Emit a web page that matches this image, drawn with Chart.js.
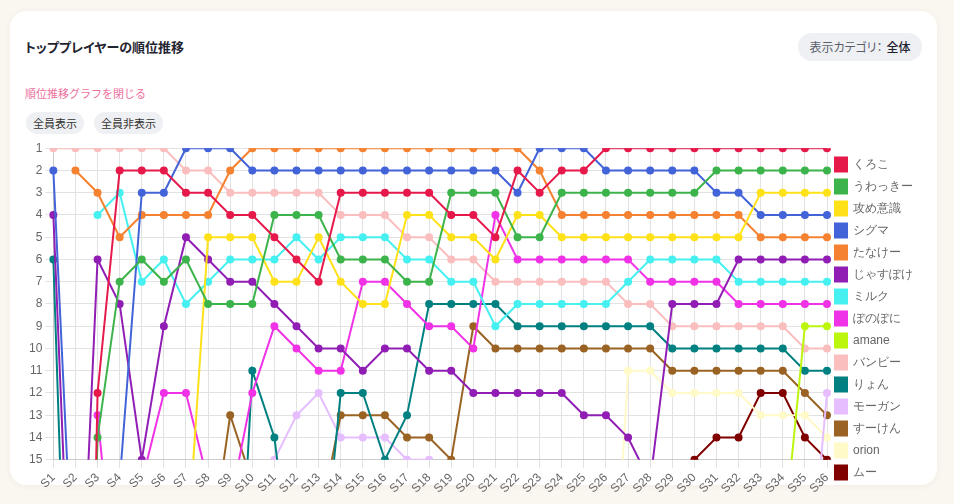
<!DOCTYPE html>
<html lang="ja">
<head>
<meta charset="utf-8">
<title>トッププレイヤーの順位推移</title>
<script src="https://cdn.jsdelivr.net/npm/chart.js@4.4.1/dist/chart.umd.min.js"></script>
<style>
  html, body { margin: 0; padding: 0; }
  body {
    width: 954px; height: 504px; overflow: hidden; position: relative;
    background: #faf6f0;
    font-family: "Noto Sans CJK JP", "Noto Sans", sans-serif;
  }
  .card {
    position: absolute; left: 10px; top: 11px; width: 927px; height: 474px;
    background: #fff; border-radius: 16px;
    box-shadow: 0 1px 6px rgba(120, 90, 40, 0.06);
  }
  .title {
    position: absolute; left: 25px; top: 37px;
    font-size: 13px; line-height: 20px; font-weight: bold; color: #1f2430;
    font-feature-settings: "palt";
  }
  .close-link {
    position: absolute; left: 25px; top: 85px;
    font-size: 11px; line-height: 16px; color: #ec6f9c;
  }
  .pill {
    position: absolute; height: 22px; line-height: 22px; border-radius: 11px;
    background: #eff0f3; color: #333; font-size: 11px; padding: 0 7px;
  }
  .category {
    position: absolute; left: 798px; top: 33px; width: 124px; height: 28px;
    line-height: 28px; border-radius: 14px; background: #eef0f4;
    font-size: 12px; text-align: center; font-feature-settings: "palt";
  }
  .category .lbl { color: #5a5f69; }
  .category .val { color: #1f2430; font-weight: 500; margin-left: 4px; }
  .chart-box { position: absolute; left: 26px; top: 138px; width: 897px; height: 361px; }
</style>
</head>
<body>
<div class="card"></div>
<div class="title">トッププレイヤーの順位推移</div>
<div class="category"><span class="lbl">表示カテゴリ：</span><span class="val">全体</span></div>
<div class="close-link">順位推移グラフを閉じる</div>
<div class="pill" style="left:26px; top:112px;">全員表示</div>
<div class="pill" style="left:94px; top:112px;">全員非表示</div>
<div class="chart-box"><canvas id="rankChart"></canvas></div>

<script>
// シーズン
var seasons = [];
for (var i = 1; i <= 36; i++) seasons.push('S' + i);

var players = ['くろこ', 'うわっきー', '攻め意識', 'シグマ', 'たなけー', 'じゃすぽけ', 'ミルク', 'ぽのぽに',
               'amane', 'バンビー', 'りょん', 'モーガン', 'すーけん', 'orion', 'ムー'];

var colors = ['#e6194b', '#3cb44b', '#ffe119', '#4363d8', '#f58231', '#911eb4', '#46f0f0', '#f032e6',
              '#bcf60c', '#fabebe', '#008080', '#e6beff', '#9a6324', '#fffac8', '#800000'];

// 順位 (null = 記録なし)
var kuroko   = [null, 60, 12, 2, 2, 2, 3, 3, 4, 4, 5, 6, 7, 3, 3, 3, 3, 3, 4, 4, 5, 2, 3, 2, 2, 1, 1, 1, 1, 1, 1, 1, 1, 1, 1, 1];
var uwakki   = [null, 50, 14, 7, 6, 7, 6, 8, 8, 8, 4, 4, 4, 6, 6, 6, 7, 7, 3, 3, 3, 5, 5, 3, 3, 3, 3, 3, 3, 3, 2, 2, 2, 2, 2, 2];
var semeishiki = [null, null, null, null, null, null, 20, 5, 5, 5, 7, 7, 5, 7, 8, 8, 4, 4, 5, 5, 6, 4, 4, 5, 5, 5, 5, 5, 5, 5, 5, 5, 3, 3, 3, 3];
var sigma    = [2, 23, 22, 16, 3, 3, 1, 1, 1, 2, 2, 2, 2, 2, 2, 2, 2, 2, 2, 2, 2, 3, 1, 1, 1, 2, 2, 2, 2, 2, 3, 3, 4, 4, 4, 4];
var tanake   = [null, 2, 3, 5, 4, 4, 4, 4, 2, 1, 1, 1, 1, 1, 1, 1, 1, 1, 1, 1, 1, 1, 2, 4, 4, 4, 4, 4, 4, 4, 4, 4, 5, 5, 5, 5];
var jasupoke = [4, 28, 6, 8, 15, 9, 5, 6, 7, 7, 8, 9, 10, 10, 11, 10, 10, 11, 11, 12, 12, 12, 12, 12, 13, 13, 14, 16, 8, 8, 8, 6, 6, 6, 6, 6];
var milk     = [null, null, 4, 3, 7, 6, 8, 7, 6, 6, 6, 5, 6, 5, 5, 5, 6, 6, 7, 7, 9, 8, 8, 8, 8, 8, 7, 6, 6, 6, 6, 7, 7, 7, 7, 7];
var ponoponi = [null, null, 13, 23, 16, 12, 12, 16, 17, 12, 9, 10, 11, 11, 7, 7, 8, 9, 9, 10, 4, 6, 6, 6, 6, 6, 6, 7, 7, 7, 7, 8, 8, 8, 8, 8];
var amane    = [null, null, null, null, null, null, null, null, null, null, null, null, null, null, null, null, null, null,
                null, null, null, null, null, null, null, null, null, null, null, null, null, null, null, 19, 9, 9];
var bambi    = [1, 1, 1, 1, 1, 1, 2, 2, 3, 3, 3, 3, 3, 4, 4, 4, 5, 5, 6, 6, 7, 7, 7, 7, 7, 7, 8, 8, 9, 9, 9, 9, 9, 9, 10, 10];
var ryon     = [6, 36, null, null, null, null, null, null, 30, 11, 14, 22, 22, 12, 12, 15, 13, 8, 8, 8, 8, 9, 9, 9, 9, 9, 9, 9, 10, 10, 10, 10, 10, 10, 11, 11];
var morgan   = [null, null, null, null, null, null, null, null, null, null, 15, 13, 12, 14, 14, 14, 15, 15,
                null, null, null, null, null, null, null, null, null, null, null, null, null, null, null, null, 23, 12];
var suken    = [null, null, null, null, null, null, null, 20, 13, 16, null, null, 18, 13, 13, 13, 14, 14, 15, 9, 10, 10, 10, 10, 10, 10, 10, 10, 11, 11, 11, 11, 11, 11, 12, 13];
var orion    = [null, null, null, null, null, null, null, null, null, null, null, null, null, null, null, null, null, null,
                null, null, null, null, null, null, null, 28, 11, 11, 12, 12, 12, 12, 13, 13, 13, 14];
var mu       = [null, null, null, null, null, null, null, null, null, null, null, null, null, null, null, null, null, null,
                null, null, null, null, null, null, null, null, null, null, null, 15, 14, 14, 12, 12, 14, 15];

var rankTicks = [1, 2, 3, 4, 5, 6, 7, 8, 9, 10, 11, 12, 13, 14, 15];

var series = [kuroko, uwakki, semeishiki, sigma, tanake, jasupoke, milk, ponoponi,
              amane, bambi, ryon, morgan, suken, orion, mu];

var datasets = series.map(function (values, idx) {
    return {
        label: players[idx],
        data: values,
        borderColor: colors[idx],
        backgroundColor: colors[idx],
        pointBackgroundColor: colors[idx],
        pointBorderColor: colors[idx],
        borderWidth: 2,
        pointRadius: 3,
        pointHoverRadius: 4,
        tension: 0,
        spanGaps: false,
        clip: { left: false, right: false, top: 0, bottom: 0 }
    };
});

var ctx = document.getElementById('rankChart').getContext('2d');
var rankChart = new Chart(ctx, {
    type: 'line',
    data: { labels: seasons, datasets: datasets },
    options: {
        responsive: true,
        maintainAspectRatio: false,
        animation: false,
        plugins: {
            legend: {
                position: 'right',
                labels: { boxWidth: 12, boxHeight: 14, padding: 8, color: '#666', font: { size: 12 } }
            },
            tooltip: { enabled: true }
        },
        scales: {
            x: {
                ticks: { minRotation: 45, maxRotation: 45, autoSkip: false, color: '#666' },
                grid: { color: '#e2e2e2' }
            },
            y: {
                reverse: true,
                min: 1,
                max: 15,
                afterBuildTicks: function (axis) {
                    axis.ticks = rankTicks.map(function (v) { return { value: v }; });
                },
                ticks: { color: '#666', font: { size: 12 } },
                grid: { color: '#e2e2e2' }
            }
        }
    }
});
</script>
</body>
</html>
